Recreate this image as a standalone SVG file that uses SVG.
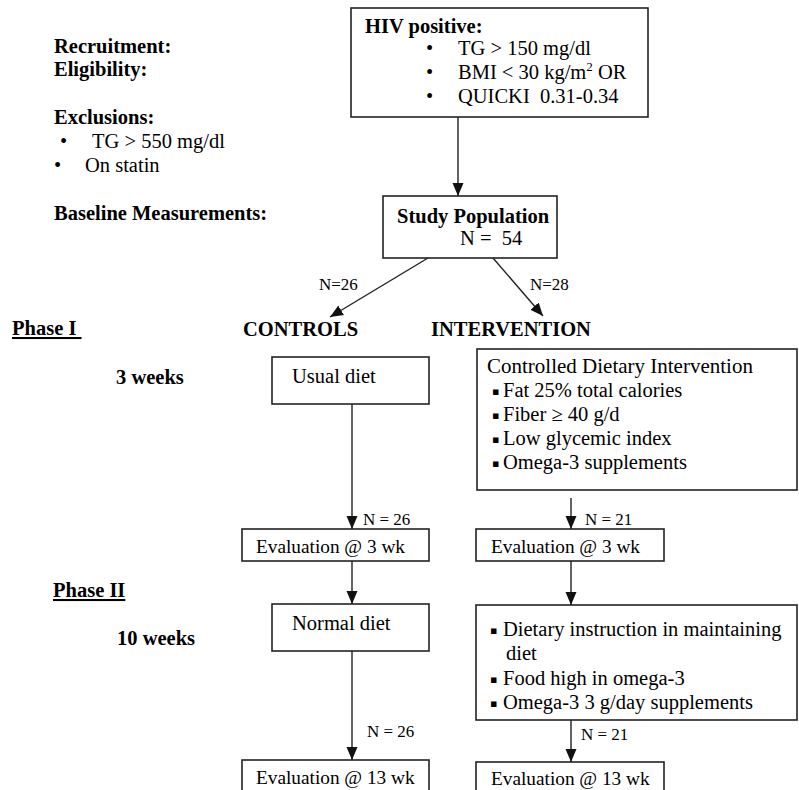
<svg xmlns="http://www.w3.org/2000/svg" width="799" height="790" viewBox="0 0 799 790">
<style>
.t{font-family:"Liberation Serif","Times New Roman",serif;font-size:20.5px;fill:#000}
.b{font-weight:bold}
.n{font-size:17px}
.e{font-size:19.3px}
.box{fill:#fff;stroke:#222;stroke-width:1.6}
.c{stroke:#222;stroke-width:1.4;fill:none}
.sq{font-family:"DejaVu Sans",sans-serif;font-size:11px}
</style>
<defs>
<marker id="ah" markerUnits="userSpaceOnUse" markerWidth="14" markerHeight="14" viewBox="0 0 14 14" refX="13" refY="7" orient="auto">
<path d="M0,1.5 L13,7 L0,12.5 Z" fill="#111"/>
</marker>
</defs>
<rect width="799" height="790" fill="#fff"/>

<g id="side-labels">
<text class="t b" x="54" y="53">Recruitment:</text>
<text class="t b" x="54" y="76">Eligibility:</text>
<text class="t b" x="54" y="124">Exclusions:</text>
<text class="t" x="60" y="148">•</text>
<text class="t" x="92" y="148">TG &gt; 550 mg/dl</text>
<text class="t" x="54" y="172">•</text>
<text class="t" x="85" y="172">On statin</text>
<text class="t b" x="54" y="220">Baseline Measurements:</text>
<text class="t b" x="12" y="335" text-decoration="underline" xml:space="preserve">Phase I </text>
<text class="t b" x="116" y="384">3 weeks</text>
<text class="t b" x="53" y="597" text-decoration="underline">Phase II</text>
<text class="t b" x="117" y="645">10 weeks</text>
</g>

<g id="hiv-box">
<rect class="box" x="351" y="8" width="297" height="109"/>
<text class="t b" x="365" y="33">HIV positive:</text>
<text class="t" x="426" y="55">•</text>
<text class="t" x="458" y="55">TG &gt; 150 mg/dl</text>
<text class="t" x="426" y="79">•</text>
<text class="t" x="458" y="79">BMI &lt; 30 kg/m<tspan font-size="13" dy="-8">2</tspan><tspan dy="8"> OR</tspan></text>
<text class="t" x="426" y="103">•</text>
<text class="t" x="458" y="103" xml:space="preserve">QUICKI  0.31-0.34</text>
</g>

<g id="study-population">
<rect class="box" x="383" y="196" width="174" height="62"/>
<text class="t b" x="397" y="223">Study Population</text>
<text class="t" x="460" y="245" xml:space="preserve">N =  54</text>
</g>

<g id="group-labels">
<text class="t b" x="243" y="336">CONTROLS</text>
<text class="t b" x="431" y="336">INTERVENTION</text>
</g>

<g id="usual-diet">
<rect class="box" x="272" y="357" width="157" height="47"/>
<text class="t" x="292" y="383">Usual diet</text>
</g>

<g id="controlled-intervention">
<rect class="box" x="477" y="349" width="320" height="141"/>
<text class="t" x="487" y="373" style="font-size:21px">Controlled Dietary Intervention</text>
<text class="sq" x="492" y="395">▪</text><text class="t" x="503" y="397">Fat 25% total calories</text>
<text class="sq" x="492" y="419">▪</text><text class="t" x="503" y="421">Fiber ≥ 40 g/d</text>
<text class="sq" x="492" y="443">▪</text><text class="t" x="503" y="445">Low glycemic index</text>
<text class="sq" x="492" y="467">▪</text><text class="t" x="503" y="469">Omega-3 supplements</text>
</g>

<g id="eval-3wk-controls">
<rect class="box" x="242" y="529" width="187" height="32"/>
<text class="t e" x="256" y="553">Evaluation @ 3 wk</text>
</g>

<g id="eval-3wk-intervention">
<rect class="box" x="476" y="529" width="188" height="32"/>
<text class="t e" x="491" y="553">Evaluation @ 3 wk</text>
</g>

<g id="normal-diet">
<rect class="box" x="272" y="604" width="157" height="47"/>
<text class="t" x="292" y="630">Normal diet</text>
</g>

<g id="phase2-intervention">
<rect class="box" x="476" y="605" width="321" height="115"/>
<text class="sq" x="490" y="634">▪</text><text class="t" x="503" y="636">Dietary instruction in maintaining</text>
<text class="t" x="506" y="660">diet</text>
<text class="sq" x="490" y="683">▪</text><text class="t" x="503" y="685">Food high in omega-3</text>
<text class="sq" x="490" y="707">▪</text><text class="t" x="503" y="709">Omega-3 3 g/day supplements</text>
</g>

<g id="eval-13wk-controls">
<rect class="box" x="242" y="760" width="187" height="40"/>
<text class="t e" x="256" y="784">Evaluation @ 13 wk</text>
</g>

<g id="eval-13wk-intervention">
<rect class="box" x="476" y="762" width="188" height="40"/>
<text class="t e" x="491" y="785">Evaluation @ 13 wk</text>
</g>

<g id="connectors">
<line class="c" x1="458" y1="117" x2="458" y2="196" marker-end="url(#ah)"/>
<line class="c" x1="428" y1="258" x2="330" y2="317" marker-end="url(#ah)"/>
<line class="c" x1="493" y1="258" x2="543" y2="316" marker-end="url(#ah)"/>
<line class="c" x1="352" y1="404" x2="352" y2="529" marker-end="url(#ah)"/>
<line class="c" x1="571" y1="498" x2="571" y2="529" marker-end="url(#ah)"/>
<line class="c" x1="352" y1="561" x2="352" y2="604" marker-end="url(#ah)"/>
<line class="c" x1="571" y1="561" x2="571" y2="605" marker-end="url(#ah)"/>
<line class="c" x1="352" y1="651" x2="352" y2="760" marker-end="url(#ah)"/>
<line class="c" x1="571" y1="720" x2="571" y2="762" marker-end="url(#ah)"/>
<text class="t n" x="319" y="290">N=26</text>
<text class="t n" x="530" y="290">N=28</text>
<text class="t n" x="363" y="525">N = 26</text>
<text class="t n" x="585" y="525">N = 21</text>
<text class="t n" x="367" y="737">N = 26</text>
<text class="t n" x="581" y="740">N = 21</text>
</g>
</svg>
